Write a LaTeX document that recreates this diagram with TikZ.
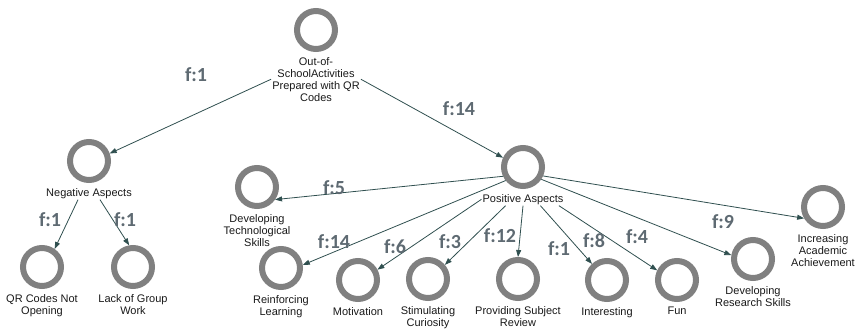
\documentclass[tikz,border=0pt]{standalone}
\usepackage{fontspec}
\setmainfont{Liberation Sans}
\newfontfamily\freqfont{Carlito}
\usetikzlibrary{positioning,arrows.meta}
\definecolor{ringgray}{RGB}{128,128,128}
\definecolor{linkteal}{RGB}{47,79,79}
\definecolor{freqgray}{RGB}{94,106,114}
\tikzset{
    ring/.style={circle,draw=ringgray,line width=6pt,minimum size=38pt,inner sep=0pt},
    caption/.style={align=center,inner sep=1pt,text=black!90,font=\fontsize{11}{12}\selectfont},
    link/.style={draw=linkteal,line width=0.8pt,-{Triangle[length=7pt,width=5pt]}},
    freq/.style={inner sep=0pt,text=freqgray,font=\freqfont\bfseries\fontsize{20}{20}\selectfont}
}
\begin{document}
\begin{tikzpicture}[x=1pt,y=-1pt]
        \useasboundingbox (0,0) rectangle (858,329);
        % concepts
        \node[ring] (top) at (316,30) {};
        \node[caption,below=4pt of top] (top-t) {Out-of-\\SchoolActivities\\Prepared with QR\\Codes};
        \node[ring] (neg) at (89,161) {};
        \node[caption,below=4pt of neg] (neg-t) {Negative Aspects};
        \node[ring] (qr) at (42,267) {};
        \node[caption,below=4pt of qr] (qr-t) {QR Codes Not\\Opening};
        \node[ring] (lack) at (133,267) {};
        \node[caption,below=4pt of lack] (lack-t) {Lack of Group\\Work};
        \node[ring] (pos) at (523,167) {};
        \node[caption,below=4pt of pos] (pos-t) {Positive Aspects};
        \node[ring] (dev) at (257,187) {};
        \node[caption,below=4pt of dev] (dev-t) {Developing\\Technological\\Skills};
        \node[ring] (reinf) at (281,268) {};
        \node[caption,below=4pt of reinf] (reinf-t) {Reinforcing\\Learning};
        \node[ring] (mot) at (358,280) {};
        \node[caption,below=4pt of mot] (mot-t) {Motivation};
        \node[ring] (stim) at (428,279) {};
        \node[caption,below=4pt of stim] (stim-t) {Stimulating\\Curiosity};
        \node[ring] (prov) at (518,279) {};
        \node[caption,below=4pt of prov] (prov-t) {Providing Subject\\Review};
        \node[ring] (int) at (607,280) {};
        \node[caption,below=4pt of int] (int-t) {Interesting};
        \node[ring] (fun) at (677,280) {};
        \node[caption,below=4pt of fun] (fun-t) {Fun};
        \node[ring] (res) at (753,259) {};
        \node[caption,below=4pt of res] (res-t) {Developing\\Research Skills};
        \node[ring] (inc) at (823,207) {};
        \node[caption,below=4pt of inc] (inc-t) {Increasing\\Academic\\Achievement};
        % links
        \draw[link] (top-t.west) -- (neg.20);
        \draw[link] (top-t.east) -- (pos.155);
        \draw[link] (neg-t.-150) -- (qr.55);
        \draw[link] (neg-t.-30) -- (lack.100);
        \draw[link] (pos.205) -- (dev.-35);
        \draw[link] (pos.218) -- (reinf.8);
        \draw[link] (pos-t.west) -- (mot.28);
        \draw[link] (pos-t.200) -- (stim.40);
        \draw[link] (pos-t.south) -- (prov.north);
        \draw[link] (pos-t.-20) -- (int.133);
        \draw[link] (pos-t.-10) -- (fun.154);
        \draw[link] (pos.-34) -- (res.170);
        \draw[link] (pos.-24) -- (inc.211);
        % frequencies
        \node[freq] (f-neg) at (196,75) {f:1};
        \node[freq] (f-pos) at (459,109) {f:14};
        \node[freq] (f-qr) at (50,220) {f:1};
        \node[freq] (f-lack) at (125,220) {f:1};
        \node[freq] (f-dev) at (334,188) {f:5};
        \node[freq] (f-reinf) at (334,242) {f:14};
        \node[freq] (f-mot) at (395,247) {f:6};
        \node[freq] (f-stim) at (450,242) {f:3};
        \node[freq] (f-prov) at (500,236) {f:12};
        \node[freq] (f-int) at (559,249) {f:1};
        \node[freq] (f-fun) at (594,241) {f:8};
        \node[freq] (f-res) at (637,237) {f:4};
        \node[freq] (f-inc) at (723,222) {f:9};
\end{tikzpicture}
\end{document}
